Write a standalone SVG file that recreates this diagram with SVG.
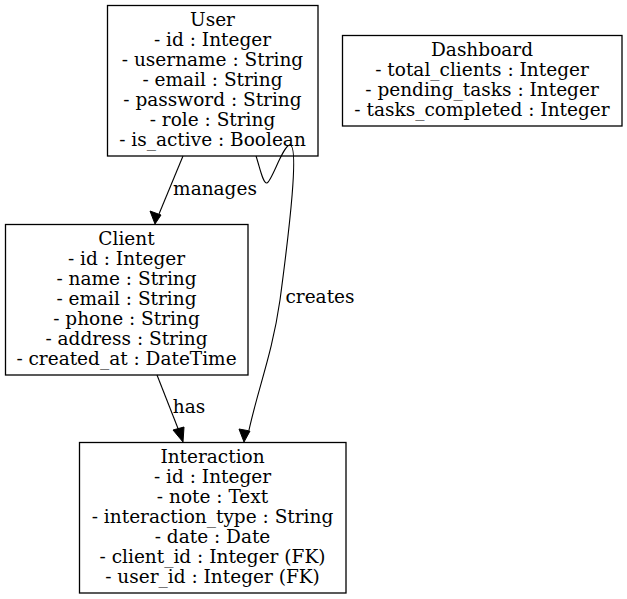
<svg xmlns="http://www.w3.org/2000/svg" width="627" height="599" viewBox="0 0 627 599">
<defs>
<style>
.box{fill:#fff;stroke:#000;stroke-width:1.3}
text{font-family:"DejaVu Serif",serif;font-size:18.5px;text-anchor:middle;fill:#000}
.edge{fill:none;stroke:#000;stroke-width:1.1}
.ah{fill:#000;stroke:#000;stroke-width:1}
</style>
</defs>
<rect width="627" height="599" fill="#fff"/>
<g id="User">
<rect class="box" x="107.5" y="5.5" width="210.5" height="150.5"/>
<text x="212.5" y="25.5">User</text>
<text x="212.5" y="45.5">- id : Integer</text>
<text x="212.5" y="65.5">- username : String</text>
<text x="212.5" y="85.5">- email : String</text>
<text x="212.5" y="105.5">- password : String</text>
<text x="212.5" y="125.5">- role : String</text>
<text x="212.5" y="145.5">- is_active : Boolean</text>
</g>
<g id="Dashboard">
<rect class="box" x="342.5" y="35.5" width="279.5" height="90.5"/>
<text x="482" y="55.5">Dashboard</text>
<text x="482" y="75.5">- total_clients : Integer</text>
<text x="482" y="95.5">- pending_tasks : Integer</text>
<text x="482" y="115.5">- tasks_completed : Integer</text>
</g>
<g id="Client">
<rect class="box" x="5.5" y="224.5" width="242.5" height="150.5"/>
<text x="126.5" y="244.5">Client</text>
<text x="126.5" y="264.5">- id : Integer</text>
<text x="126.5" y="284.5">- name : String</text>
<text x="126.5" y="304.5">- email : String</text>
<text x="126.5" y="324.5">- phone : String</text>
<text x="126.5" y="344.5">- address : String</text>
<text x="126.5" y="364.5">- created_at : DateTime</text>
</g>
<g id="Interaction">
<rect class="box" x="79.5" y="442.5" width="266.5" height="150.5"/>
<text x="212.5" y="462.5">Interaction</text>
<text x="212.5" y="482.5">- id : Integer</text>
<text x="212.5" y="502.5">- note : Text</text>
<text x="212.5" y="522.5">- interaction_type : String</text>
<text x="212.5" y="542.5">- date : Date</text>
<text x="212.5" y="562.5">- client_id : Integer (FK)</text>
<text x="212.5" y="582.5">- user_id : Integer (FK)</text>
</g>
<g id="connectors">
<path class="edge" d="M183,156 L159,214"/>
<polygon class="ah" points="155,224 150,211 161,215"/>
<text x="215" y="195">manages</text>
<path class="edge" d="M157,375 L179,431"/>
<polygon class="ah" points="183,442 173,430 184,427"/>
<text x="189" y="413">has</text>
<path class="edge" d="M256,156 C260,168 263,184 267,183 C272,181 283,145 290,145 C299,146 290,225 280,300 C272,355 259,385 249,430"/>
<polygon class="ah" points="244,442 239,429 250,431"/>
<text x="320" y="303">creates</text>
</g>
</svg>
